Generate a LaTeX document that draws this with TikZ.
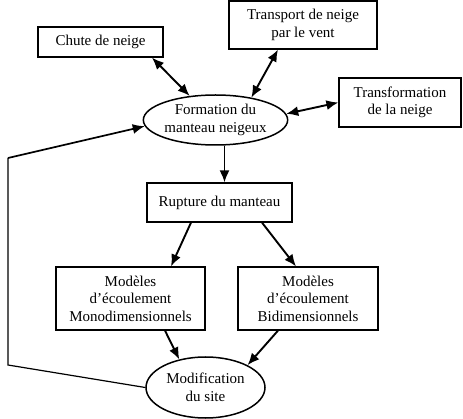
\documentclass[tikz,border=0pt]{standalone}
\usepackage{fontspec}
\setmainfont{Liberation Serif}
\usetikzlibrary{arrows.meta,shapes.geometric,calc}
\begin{document}
\begin{tikzpicture}[x=1pt,y=-1pt,
  every node/.style={font=\fontsize{15}{17.5}\selectfont,align=center,inner sep=0pt},
  box/.style={draw,line width=1.2pt,rectangle},
  ell/.style={draw,line width=1.5pt,ellipse},
  arr/.style={line width=1.9pt,-{Latex[length=12pt,width=10pt]}},
  dbl/.style={line width=1.9pt,{Latex[length=12pt,width=10pt]}-{Latex[length=12pt,width=10pt]}},
  loop/.style={line width=1.2pt}]
\useasboundingbox (0,0) rectangle (463,419);
\node[box,minimum width=125pt,minimum height=30pt] (chute) at (100.5,42) {Chute de neige};
\node[box,minimum width=148pt,minimum height=48pt] (transport) at (303,25) {Transport de neige\\par le vent};
\node[box,minimum width=122pt,minimum height=49pt] (transf) at (400,102.5) {Transformation\\de la neige};
\node[ell,minimum width=141pt,minimum height=50pt] (form) at (215.5,120) {Formation du\\manteau neigeux};
\node[box,minimum width=145pt,minimum height=39pt] (rupture) at (219.5,202.5) {\raisebox{3pt}{Rupture du manteau}};
\node[box,minimum width=149pt,minimum height=63pt] (mono) at (130.5,298.5) {Modèles\\d’écoulement\\Monodimensionnels};
\node[box,minimum width=140pt,minimum height=63pt] (bi) at (308,298.5) {Modèles\\d’écoulement\\Bidimensionnels};
\node[ell,minimum width=119pt,minimum height=61pt] (modif) at (205.5,387.5) {Modification\\du site};
\coordinate (c1) at (8,365);
\coordinate (c2) at (8,158);
\draw[dbl] ([xshift=51.5pt]chute.south) -- (form.137);
\draw[dbl] ([xshift=-25pt]transport.south) -- (form.32);
\draw[dbl] (form.5) -- (transf.west);
\draw[arr] ([xshift=9pt]form.south) -- ([xshift=5pt]rupture.north);
\draw[arr] ([xshift=-28.5pt]rupture.south) -- ([xshift=40.5pt]mono.north);
\draw[arr] ([xshift=42.5pt]rupture.south) -- ([xshift=-12pt]bi.north);
\draw[arr] ([xshift=34.5pt]mono.south) -- (modif.133);
\draw[arr] ([xshift=-30pt]bi.south) -- (modif.28);
\draw[loop] (modif.west) -- (c1) -- (c2);
\draw[arr,line width=1.7pt] (c2) -- (form.185);
\end{tikzpicture}
\end{document}
